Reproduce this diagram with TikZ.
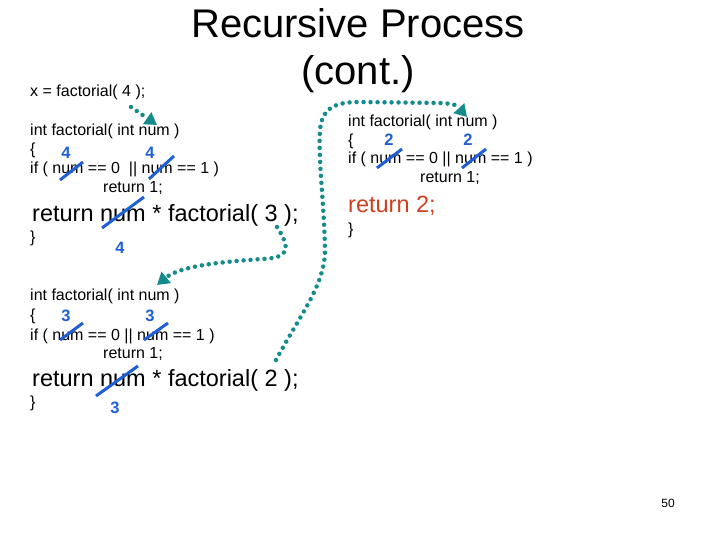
\documentclass[tikz,border=0pt]{standalone}
\usepackage{fontspec}
\setmainfont{Liberation Sans}
\usetikzlibrary{arrows.meta, positioning}
\definecolor{callteal}{RGB}{20,140,140}
\definecolor{valblue}{RGB}{30,95,215}
\definecolor{retred}{RGB}{205,65,30}

\begin{document}
\begin{tikzpicture}[x=1pt, y=-1pt, every node/.style={inner sep=0pt, anchor=base west},
  code/.style={font=\fontsize{16}{16}\selectfont},
  bigcode/.style={font=\fontsize{23.5}{23.5}\selectfont},
  val/.style={anchor=center, text=valblue, font=\fontsize{16.5}{16.5}\selectfont\bfseries},
  strike/.style={valblue, line width=3pt},
  call/.style={callteal, line width=4.5pt, line cap=round, dash pattern=on 0pt off 7pt, -{Triangle[length=12pt, width=14pt]}}]
\useasboundingbox (0,0) rectangle (720,540);
\node[anchor=base, font=\fontsize{40}{40}\selectfont] (title1) at (358,38) {Recursive Process};
\node[anchor=base, font=\fontsize{40}{40}\selectfont] (title2) at (358,85) {(cont.)};
\node[code] (xcall) at (30,97) {x = factorial( 4 );};

\node[code] (a1) at (30,136) {int factorial( int num )};
\node[code] (a2) at (30,155) {\{};
\node[code] (a3) at (30,174) {if ( num == 0 \ || num == 1 )};
\node[code] (a4) at (103,193) {return 1;};
\node[bigcode] (a5) at (32,222) {return num * factorial( 3 );};
\node[code] (a6) at (30,243) {\}};
\node[val] (a4v1) at (66,153) {4};
\node[val] (a4v2) at (150,153) {4};
\node[val] (a4v3) at (120,248) {4};
\draw[strike] (60,180) -- (83,162);
\draw[strike] (149,179) -- (174,156);
\draw[strike] (102,228) -- (144,197);

\node[code] (b1) at (348,127) {int factorial( int num )};
\node[code] (b2) at (348,146) {\{};
\node[code] (b3) at (348,164) {if ( num == 0 || num == 1 )};
\node[code] (b4) at (420,183) {return 1;};
\node[bigcode, text=retred] (b5) at (348,212) {return 2;};
\node[code] (b6) at (348,234) {\}};
\node[val] (b2v1) at (389,140) {2};
\node[val] (b2v2) at (468,140) {2};
\draw[strike] (377,168) -- (402,149);
\draw[strike] (462,168) -- (486,149);

\node[code] (c1) at (30,300) {int factorial( int num )};
\node[code] (c2) at (30,320) {\{};
\node[code] (c3) at (30,340) {if ( num == 0 || num == 1 )};
\node[code] (c4) at (103,358) {return 1;};
\node[bigcode] (c5) at (32,386) {return num * factorial( 2 );};
\node[code] (c6) at (30,407) {\}};
\node[val] (c3v1) at (66,316) {3};
\node[val] (c3v2) at (150,316) {3};
\node[val] (c3v3) at (115,408) {3};
\draw[strike] (60,340) -- (83,323);
\draw[strike] (144,340) -- (168,323);
\draw[strike] (96,396) -- (138,366);

\node[anchor=center, font=\fontsize{12}{12}\selectfont] (page) at (668,503) {50};

\coordinate (from4) at (131,107);
\coordinate (to4) at (157,125);
\coordinate (from3) at (277,227);
\coordinate (to3) at (157,285);
\coordinate (from2) at (276,360);
\coordinate (to2) at (467,117);
\draw[call] (from4) -- (to4);
\draw[call] (from3) .. controls (292,250) and (288,258) .. (262,259) .. controls (220,262) and (180,266) .. (to3);
\draw[call] (from2) .. controls (300,315) and (325,285) .. (325,250) .. controls (324,200) and (318,160) .. (320,130) .. controls (322,106) and (338,102) .. (360,102) -- (440,103) .. controls (455,104) .. (to2);
\end{tikzpicture}
\end{document}
